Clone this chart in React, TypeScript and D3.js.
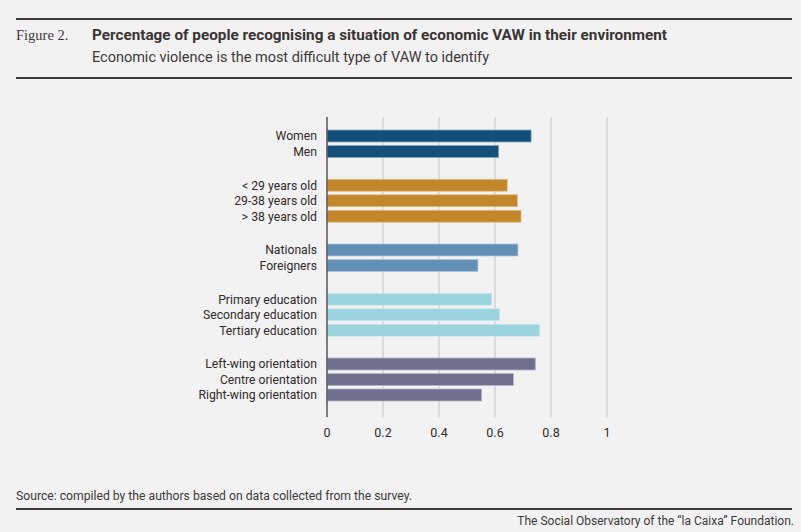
import { useEffect, useRef } from "react";
import { select, scaleLinear, format } from "d3";

// categories, grouped as in the figure
const labels = [
  "Women",
  "Men",
  "< 29 years old",
  "29-38 years old",
  "> 38 years old",
  "Nationals",
  "Foreigners",
  "Primary education",
  "Secondary education",
  "Tertiary education",
  "Left-wing orientation",
  "Centre orientation",
  "Right-wing orientation",
];
const groups = [0, 0, 1, 1, 1, 2, 2, 3, 3, 3, 4, 4, 4];
const values = [
  0.729, 0.613, 0.644, 0.68, 0.693, 0.682, 0.539, 0.588, 0.617, 0.76, 0.744,
  0.666, 0.552,
];
const groupColors = ["#144f79", "#c2872a", "#638fb6", "#9bd3de", "#6f6f8e"];
const groupStroke = ["#8aa8c0", "#e2c48f", "#b0c8dc", "#cdeaef", "#b5b5c8"];
const ticks = [0, 0.2, 0.4, 0.6, 0.8, 1];

const W = 801;
const H = 532;
const BG = "#f2f2f2";
const FONT = "Roboto, 'Liberation Sans', sans-serif";

const drawChart = (el: SVGSVGElement) => {
  const svg = select(el);
  svg.selectAll("*").remove();

  svg.append("rect").attr("width", W).attr("height", H).attr("fill", BG);

  // header rules and titles
  const rule = (y: number) =>
    svg
      .append("line")
      .attr("x1", 16)
      .attr("x2", 792)
      .attr("y1", y)
      .attr("y2", y)
      .attr("stroke", "#3d3a39")
      .attr("stroke-width", 2);
  rule(19);
  rule(78);
  rule(509);

  svg
    .append("text")
    .attr("x", 16)
    .attr("y", 40)
    .attr("font-family", "'Liberation Serif', serif")
    .attr("font-size", 14.5)
    .attr("fill", "#3d3a39")
    .text("Figure 2.");
  svg
    .append("text")
    .attr("x", 92)
    .attr("y", 40)
    .attr("font-family", FONT)
    .attr("font-weight", 700)
    .attr("font-size", 14.5)
    .attr("fill", "#3a3534")
    .attr("textLength", 575)
    .attr("lengthAdjust", "spacingAndGlyphs")
    .text(
      "Percentage of people recognising a situation of economic VAW in their environment"
    );
  svg
    .append("text")
    .attr("x", 92)
    .attr("y", 62)
    .attr("font-family", FONT)
    .attr("font-size", 14)
    .attr("fill", "#3d3a39")
    .attr("textLength", 397)
    .attr("lengthAdjust", "spacingAndGlyphs")
    .text("Economic violence is the most difficult type of VAW to identify");

  // scales
  const gapRatio = 18.25 / 15.5;
  const slot = (i: number) => i + groups[i] * gapRatio;
  const x = scaleLinear([0, 1], [327, 607]);
  const y = scaleLinear([0, slot(labels.length - 1)], [130, 389]);
  const barH = 12;
  const fmt = format("~g");

  // grid
  svg
    .append("g")
    .selectAll("line")
    .data(ticks.filter((t) => t > 0))
    .join("line")
    .attr("x1", (d) => x(d))
    .attr("x2", (d) => x(d))
    .attr("y1", 117)
    .attr("y2", 417)
    .attr("stroke", "#c4c4c4")
    .attr("stroke-width", 1);

  // bars
  svg
    .append("g")
    .selectAll("rect")
    .data(values)
    .join("rect")
    .attr("x", x(0))
    .attr("y", (d, i) => y(slot(i)))
    .attr("width", (d) => x(d) - x(0))
    .attr("height", barH)
    .attr("fill", (d, i) => groupColors[groups[i]])
    .attr("stroke", (d, i) => groupStroke[groups[i]])
    .attr("stroke-width", 0.8);

  // zero axis line
  svg
    .append("line")
    .attr("x1", x(0))
    .attr("x2", x(0))
    .attr("y1", 117)
    .attr("y2", 417)
    .attr("stroke", "#5a5553")
    .attr("stroke-width", 1.5);

  // row labels
  svg
    .append("g")
    .selectAll("text")
    .data(labels)
    .join("text")
    .attr("x", 317)
    .attr("y", (d, i) => y(slot(i)) + barH / 2)
    .attr("dy", "0.35em")
    .attr("text-anchor", "end")
    .attr("font-family", FONT)
    .attr("font-size", 12.2)
    .attr("fill", "#2f2c2b")
    .text((d) => d);

  // tick labels
  svg
    .append("g")
    .selectAll("text")
    .data(ticks)
    .join("text")
    .attr("x", (d) => x(d))
    .attr("y", 433)
    .attr("dy", "0.35em")
    .attr("text-anchor", "middle")
    .attr("font-family", FONT)
    .attr("font-size", 12.5)
    .attr("fill", "#2f2c2b")
    .text((d) => fmt(d));

  // footer
  svg
    .append("text")
    .attr("x", 16)
    .attr("y", 500)
    .attr("font-family", FONT)
    .attr("font-size", 12)
    .attr("fill", "#3d3a39")
    .attr("textLength", 396)
    .attr("lengthAdjust", "spacingAndGlyphs")
    .text("Source: compiled by the authors based on data collected from the survey.");
  svg
    .append("text")
    .attr("x", 794)
    .attr("y", 525)
    .attr("text-anchor", "end")
    .attr("font-family", FONT)
    .attr("font-size", 12)
    .attr("fill", "#3d3a39")
    .text("The Social Observatory of the \u201cla Caixa\u201d Foundation.");
};

const App = () => {
  const ref = useRef<SVGSVGElement>(null);

  useEffect(() => {
    if (ref.current) drawChart(ref.current);
  }, []);

  return (
    <div
      style={{
        position: "fixed",
        top: 0,
        left: 0,
        width: W,
        height: H,
        background: BG,
        overflow: "hidden",
      }}
    >
      <svg ref={ref} width={W} height={H} style={{ display: "block" }} />
    </div>
  );
};

export default App;
